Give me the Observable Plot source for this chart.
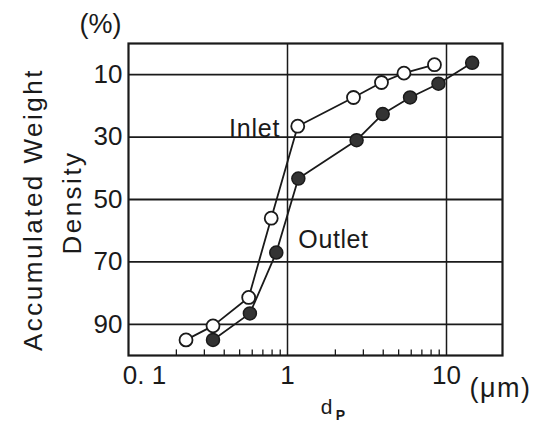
<!DOCTYPE html>
<html>
<head>
<meta charset="utf-8">
<script src="https://cdn.jsdelivr.net/npm/d3@7"></script>
<script src="https://cdn.jsdelivr.net/npm/@observablehq/plot@0.6"></script>
<style>
  html, body { margin: 0; padding: 0; background: #fff; }
  #chart svg { display: block; }
</style>
</head>
<body>
<div id="chart"></div>
<script>
// Data
const inletDp = [0.23, 0.34, 0.57, 0.79, 1.16, 2.6, 3.9, 5.4, 8.4];
const inletW  = [95, 90.5, 81.4, 56, 26.5, 17.3, 12.5, 9.5, 6.8];
const outletDp = [0.34, 0.58, 0.85, 1.17, 2.72, 3.97, 5.9, 8.9, 14.5];
const outletW  = [95, 86.5, 67, 43.3, 31, 22.6, 17.3, 12.9, 6.2];
const yTicks = [10, 30, 50, 70, 90];
const xMajor = [1, 10];
const xMinor = [0.2, 0.3, 0.4, 0.5, 0.6, 0.7, 0.8, 0.9, 2, 3, 4, 5, 6, 7, 8, 9];

const inlet = inletDp.map((d, i) => ({dp: d, w: inletW[i]}));
const outlet = outletDp.map((d, i) => ({dp: d, w: outletW[i]}));

const font = "'Liberation Sans', Arial, sans-serif";
const ink = "#1a1a1a";
const lbl = {textAnchor: "middle", lineAnchor: "middle", fill: ink};

const chart = Plot.plot({
  width: 543,
  height: 426,
  marginLeft: 128,
  marginRight: 41,
  marginTop: 43,
  marginBottom: 71,
  style: {fontFamily: font, color: ink, background: "#fff"},
  x: {type: "log", domain: [0.1, 22.5]},
  y: {domain: [0, 100], reverse: true},
  marks: [
    Plot.gridY(yTicks, {stroke: ink, strokeOpacity: 1, strokeWidth: 1.8}),
    Plot.gridX(xMajor, {stroke: ink, strokeOpacity: 1, strokeWidth: 1.5}),
    Plot.ruleX(xMinor, {x: d => d, y1: 100, y2: 98.2, stroke: ink, strokeWidth: 1.3}),
    Plot.frame({stroke: ink, strokeWidth: 2.2}),
    Plot.axisY(yTicks, {tickSize: 0, tickPadding: 6, fontSize: 26, label: null}),
    Plot.axisX(xMajor, {tickSize: 0, tickPadding: 10, fontSize: 26, label: null}),
    Plot.axisX([0.1], {tickSize: 0, tickPadding: 10, fontSize: 26, label: null, dx: 16, tickFormat: () => "0. 1"}),
    Plot.line(inlet, {x: "dp", y: "w", stroke: ink, strokeWidth: 1.8}),
    Plot.line(outlet, {x: "dp", y: "w", stroke: ink, strokeWidth: 1.8}),
    Plot.dot(inlet, {x: "dp", y: "w", r: 6.5, fill: "#fff", stroke: ink, strokeWidth: 1.8}),
    Plot.dot(outlet, {x: "dp", y: "w", r: 6.5, fill: "#333", stroke: ink, strokeWidth: 1.5}),
    Plot.text(["Inlet"], {x: 0.9, y: 27.5, text: d => d, textAnchor: "end", fontSize: 25, fill: ink}),
    Plot.text(["Outlet"], {x: 1.17, y: 63, text: d => d, textAnchor: "start", fontSize: 25, fill: ink}),
    Plot.text(["(%)"], {...lbl, frameAnchor: "top-left", text: d => d, dx: -28, dy: -19, fontSize: 27}),
    Plot.text(["(\u03bcm)"], {...lbl, frameAnchor: "bottom-right", text: d => d, dx: -2, dy: 33, fontSize: 27}),
    Plot.text(["d"], {...lbl, frameAnchor: "bottom", text: d => d, dx: 11, dy: 52, fontSize: 21}),
    Plot.text(["P"], {...lbl, frameAnchor: "bottom", text: d => d, dx: 25, dy: 60, fontSize: 14, fontWeight: "bold"}),
    Plot.text(["Accumulated Weight"], {...lbl, frameAnchor: "left", text: d => d, rotate: -90, dx: -95, dy: 10, fontSize: 26}),
    Plot.text(["Density"], {...lbl, frameAnchor: "left", text: d => d, rotate: -90, dx: -56, dy: 3, fontSize: 26})
  ]
});
// Letter spacing to match the wide-set lettering of the original
const spacing = {"Accumulated Weight": "2.5px", "Density": "2.5px", "(\u03bcm)": "1.5px", "Inlet": "0.8px", "Outlet": "0.6px"};
d3.select(chart).selectAll("text").each(function() {
  const s = spacing[this.textContent];
  if (s) this.setAttribute("letter-spacing", s);
});
document.getElementById("chart").appendChild(chart);
</script>
</body>
</html>
